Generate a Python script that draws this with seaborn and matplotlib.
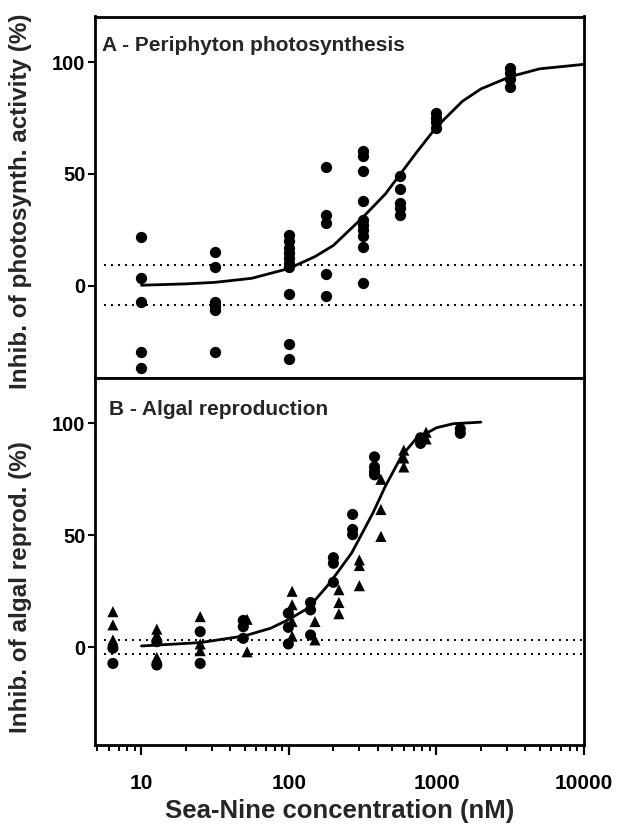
import numpy as np
import pandas as pd
import matplotlib
matplotlib.use("Agg")
import matplotlib.pyplot as plt
import seaborn as sns
from matplotlib.ticker import FixedLocator, LogLocator, NullFormatter

# ---------------- data ----------------
# Panel A - periphyton photosynthesis (circles)
conc_a = [10, 31.6, 100, 178, 316, 562, 1000, 3162]
inhib_a = [
    [21.6, 3.3, -7.5, -29.5, -37.0],
    [15.0, 8.2, -7.3, -9.2, -10.9, -29.5],
    [22.8, 20.2, 17.0, 14.8, 12.5, 10.0, 8.3, -3.8, -25.9, -32.6],
    [52.9, 31.4, 28.2, 5.3, -4.4],
    [60.2, 57.9, 51.1, 37.7, 29.5, 27.0, 25.0, 22.0, 17.3, 1.1],
    [49.0, 43.4, 37.0, 34.6, 31.6],
    [77.4, 75.2, 73.0, 70.7],
    [97.2, 95.1, 92.5, 88.8],
]
curve_a_x = [10, 20, 31.6, 56, 100, 150, 200, 316, 450, 562, 750, 1000, 1500, 2000, 3162, 5000, 10000]
curve_a_y = [0.2, 0.8, 1.5, 3.3, 7.7, 13.0, 18.0, 30.5, 41.0, 49.5, 60.5, 71.0, 82.5, 88.0, 93.5, 97.0, 99.0]
ctrl_a = [9.3, -8.7]

# Panel B - algal reproduction (circles and triangles: two experiments)
circ_conc = [6.4, 12.7, 25, 49, 99, 140, 200, 270, 380, 780, 1450]
circ_vals = [
    [-0.4, -7.2],
    [2.5, -7.9],
    [7.0, -7.2],
    [12.0, 9.2, 4.0],
    [15.2, 8.9, 1.5],
    [20.0, 16.7, 5.5],
    [40.0, 37.5, 29.0],
    [59.3, 52.6, 50.3],
    [85.0, 80.5, 78.5, 77.0],
    [93.5, 91.0],
    [97.5, 95.5],
]
tri_conc = [6.4, 12.7, 25, 52, 105, 150, 218, 300, 420, 600, 850]
tri_vals = [
    [15.9, 10.0, 3.3],
    [8.1, 5.5, 3.6, -4.5],
    [13.7, 1.5, -1.5],
    [12.5, -2.0],
    [25.0, 19.0, 11.5, 5.0],
    [11.5, 3.3],
    [25.7, 20.0, 15.0],
    [39.0, 36.5, 27.5],
    [75.0, 61.5, 49.5],
    [88.0, 84.5, 80.5],
    [96.0, 93.0],
]
curve_b_x = [10, 25, 50, 75, 98, 135, 189, 266, 371, 450, 580, 723, 1000, 1300, 2000]
curve_b_y = [0.6, 2.1, 5.1, 8.5, 12.2, 17.5, 28.7, 42.1, 60.0, 71.9, 85.4, 92.9, 98.0, 99.8, 100.5]
ctrl_b = [3.3, -2.8]

xticks = [10, 100, 1000, 10000]
xtick_labels = ["10", "100", "1000", "10000"]
yticks = [0, 50, 100]
ytick_labels = ["0", "50", "100"]

title_a = "A - Periphyton photosynthesis"
title_b = "B - Algal reproduction"
ylabel_a = "Inhib. of photosynth. activity (%)"
ylabel_b = "Inhib. of algal reprod. (%)"
xlabel = "Sea-Nine concentration (nM)"

# ---------------- tables ----------------
dfA = pd.DataFrame([(c, v) for c, vs in zip(conc_a, inhib_a) for v in vs], columns=["conc", "inhib"])
rows = [(c, v, "circle") for c, vs in zip(circ_conc, circ_vals) for v in vs]
rows += [(c, v, "triangle") for c, vs in zip(tri_conc, tri_vals) for v in vs]
dfB = pd.DataFrame(rows, columns=["conc", "inhib", "series"])

# ---------------- style ----------------
sns.set_theme(style="white")
plt.rcParams["font.family"] = ["Liberation Sans", "DejaVu Sans"]
plt.rcParams["font.weight"] = "bold"
plt.rcParams["axes.labelweight"] = "bold"

W, H = 620, 825
fig = plt.figure(figsize=(W / 100, H / 100), dpi=100)


def rect(l, t, r, b):
    return [l / W, 1 - b / H, (r - l) / W, (b - t) / H]


axA = fig.add_axes(rect(95, 16.5, 584, 378))
axB = fig.add_axes(rect(95, 378, 584, 745))

for ax in (axA, axB):
    ax.set_xscale("log")

# Panel A
axA.hlines(ctrl_a, 5.6, 10000, colors="black", linestyles=(0, (1, 2.6)), lw=1.4, zorder=1)
sns.lineplot(x=curve_a_x, y=curve_a_y, ax=axA, color="black", lw=2.0,
             estimator=None, sort=False, zorder=2)
sns.scatterplot(data=dfA, x="conc", y="inhib", ax=axA, color="black", marker="o",
                s=66, linewidth=0, legend=False, zorder=3)

# Panel B
axB.hlines(ctrl_b, 5.6, 10000, colors="black", linestyles=(0, (1, 2.6)), lw=1.4, zorder=1)
sns.lineplot(x=curve_b_x, y=curve_b_y, ax=axB, color="black", lw=2.0,
             estimator=None, sort=False, zorder=2)
sns.scatterplot(data=dfB, x="conc", y="inhib", style="series",
                markers={"circle": "o", "triangle": "^"}, ax=axB, color="black",
                s=64, linewidth=0, legend=False, zorder=3)

# Axes setup
axA.set_ylim(-41.3, 120.4)
axB.set_ylim(-43.6, 120.2)
for ax in (axA, axB):
    ax.set_xlim(4.84, 10000)
    ax.set_yticks(yticks)
    ax.set_yticklabels(ytick_labels)
    ax.tick_params(axis="y", which="major", direction="out", length=5, width=1.5,
                   pad=2, labelsize=14.5, left=True, right=False, colors="black")
    for sp in ax.spines.values():
        sp.set_visible(True)
        sp.set_linewidth(2.0)
        sp.set_color("black")
    ax.set_xlabel("")

axA.tick_params(axis="x", which="both", bottom=False, labelbottom=False, top=False)

axB.xaxis.set_major_locator(FixedLocator(xticks))
axB.set_xticklabels(xtick_labels)
axB.xaxis.set_minor_locator(LogLocator(base=10, subs=np.arange(2, 10)))
axB.xaxis.set_minor_formatter(NullFormatter())
axB.tick_params(axis="x", which="major", direction="out", length=7, width=1.6,
                pad=14, labelsize=15, bottom=True, top=False, colors="black")
axB.tick_params(axis="x", which="minor", direction="out", length=4.5, width=1.4,
                bottom=True, top=False, colors="black")

# Labels
axA.set_ylabel(ylabel_a, fontsize=17.5, fontweight="bold", va="center")
axA.yaxis.set_label_coords(-0.152, 0.49)
axB.set_ylabel(ylabel_b, fontsize=17.5, fontweight="bold", va="center")
axB.yaxis.set_label_coords(-0.152, 0.43)
axB.set_xlabel(xlabel, fontsize=18.5, fontweight="bold", va="baseline")
axB.xaxis.set_label_coords(0.5, -0.2)

axA.text(0.014, 0.905, title_a, transform=axA.transAxes, fontsize=15,
         fontweight="bold", va="baseline", ha="left")
axB.text(0.029, 0.899, title_b, transform=axB.transAxes, fontsize=15,
         fontweight="bold", va="baseline", ha="left")

fig.savefig("out.png", dpi=100)
